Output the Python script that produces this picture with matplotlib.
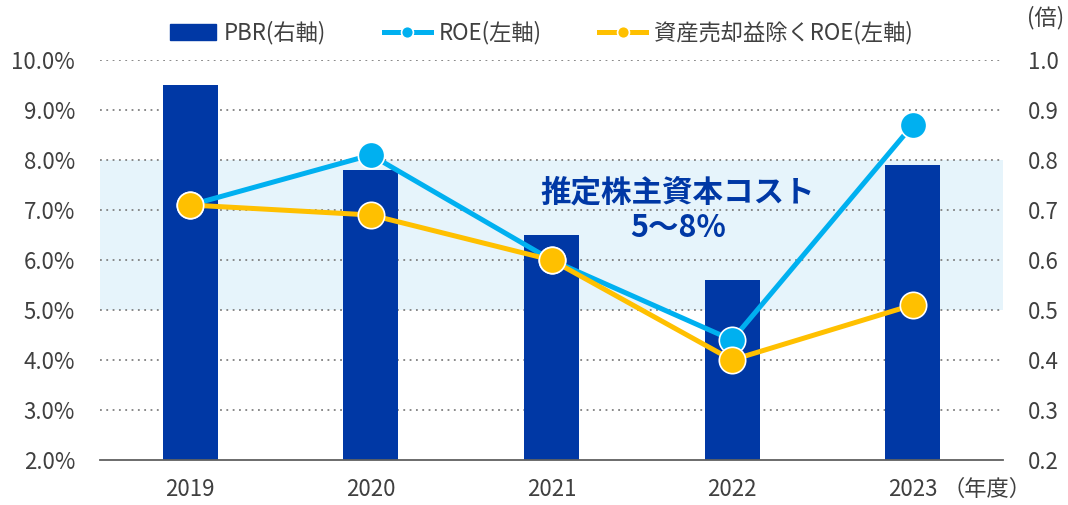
import matplotlib
matplotlib.use("Agg")
import matplotlib.pyplot as plt
from matplotlib.ticker import FuncFormatter, MultipleLocator

plt.rcParams['font.family'] = ['Noto Sans CJK JP', 'DejaVu Sans']

years = ["2019", "2020", "2021", "2022", "2023"]
pbr = [0.95, 0.78, 0.65, 0.56, 0.79]
roe = [7.1, 8.1, 6.0, 4.4, 8.7]
roe_adj = [7.1, 6.9, 6.0, 4.0, 5.1]
band = (5.0, 8.0)

c_bar = "#0038A5"
c_roe = "#00B0F0"
c_adj = "#FFC000"
c_txt = "#404040"
fs = 16

fig = plt.figure(figsize=(10.68, 5.05), dpi=100)
ax = fig.add_axes([100/1068, 45/505, 903/1068, 400/505])
ax2 = ax.twinx()

x = list(range(len(years)))

# right axis: PBR bars
ax2.bar(x, pbr, width=0.305, color=c_bar, zorder=2, label="PBR(右軸)")
ax2.set_ylim(0.2, 1.0)
ax2.yaxis.set_major_locator(MultipleLocator(0.1))
ax2.yaxis.set_major_formatter(FuncFormatter(lambda v, p: f"{v:.1f}"))

ax.set_ylim(2.0, 10.0)
ax.set_xlim(-0.5, 4.5)
ax.yaxis.set_major_locator(MultipleLocator(1.0))
ax.yaxis.set_major_formatter(FuncFormatter(lambda v, p: f"{v:.1f}%"))

ax.set_zorder(ax2.get_zorder() + 1)
ax.patch.set_visible(False)

ax2.axhspan(0.2 + (band[0] - 2.0) / 10.0, 0.2 + (band[1] - 2.0) / 10.0,
            color="#E6F4FB", zorder=0, lw=0)
for g in [0.3, 0.4, 0.5, 0.6, 0.7, 0.8, 0.9, 1.0]:
    ax2.axhline(g, color="#808080", lw=1.3, ls=(0, (1, 2.5)), zorder=1)

l1, = ax.plot(x, roe, color=c_roe, lw=3.6, marker="o", ms=19,
              markerfacecolor=c_roe, markeredgecolor="white", markeredgewidth=1.2,
              zorder=3, label="ROE(左軸)")
l2, = ax.plot(x, roe_adj, color=c_adj, lw=3.6, marker="o", ms=19,
              markerfacecolor=c_adj, markeredgecolor="white", markeredgewidth=1.2,
              zorder=4, label="資産売却益除くROE(左軸)")

ax.set_xticks(x)
ax.set_xticklabels(years)

for a in (ax, ax2):
    for s in ["top", "left", "right", "bottom"]:
        a.spines[s].set_visible(False)
    a.tick_params(length=0, labelsize=fs, labelcolor=c_txt)
ax.spines["bottom"].set_visible(True)
ax.spines["bottom"].set_color("#606060")
ax.spines["bottom"].set_linewidth(1.3)
ax.tick_params(axis="y", pad=18)
ax2.tick_params(axis="y", pad=18)
ax.tick_params(axis="x", pad=13)

ax.text(2.70, 7.0, "推定株主資本コスト\n5～8%", ha="center", va="center",
        fontsize=22, fontweight="bold", color=c_bar, linespacing=1.15, zorder=5)

fig.text(1046/1068, 1 - 18/505, "(倍)", ha="center", va="center",
         fontsize=fs, color=c_txt)
fig.text(1032/1068, 1 - 489/505, "（年度）", ha="right", va="center",
         fontsize=fs, color=c_txt)

bars_handle = plt.Rectangle((0, 0), 1, 1, color=c_bar)
fig.legend([bars_handle, l1, l2], ["PBR(右軸)", "ROE(左軸)", "資産売却益除くROE(左軸)"],
           loc="center", bbox_to_anchor=(541/1068, 1 - 33/505), ncol=3,
           frameon=False, fontsize=fs, labelcolor=c_txt, handlelength=2.1,
           handletextpad=0.35, columnspacing=2.6, markerscale=0.45)

fig.savefig("out.png", dpi=100)
